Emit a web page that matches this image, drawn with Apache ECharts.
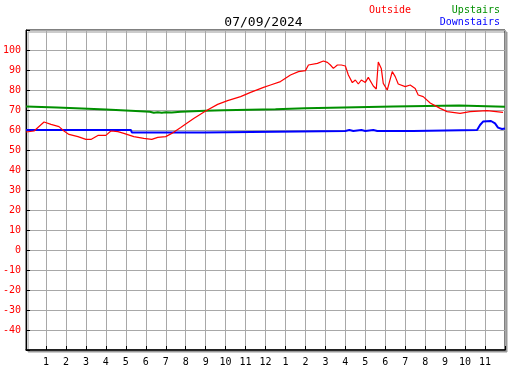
<!DOCTYPE html>
<html>
<head>
<meta charset="utf-8">
<script src="https://cdn.jsdelivr.net/npm/echarts@6/dist/echarts.min.js"></script>
<style>
  html, body { margin: 0; padding: 0; background: #fff; }
  #chart { width: 527px; height: 370px; }
</style>
</head>
<body>
<div id="chart"></div>
<script>
// hours since midnight -> temperature
const outsideTime = [0, 0.05, 0.4, 0.9, 1.25, 1.65, 1.9, 2.15, 2.6, 3.0, 3.25, 3.6, 4.0, 4.25, 4.6, 4.9, 5.4, 5.9, 6.3, 6.6, 7.0, 7.3, 7.75, 8.0, 8.4, 9.0, 9.6, 10.1, 10.75, 11.25, 11.9, 12.25, 12.75, 13.25, 13.65, 14.0, 14.15, 14.6, 14.9, 15.1, 15.25, 15.4, 15.6, 15.8, 16.0, 16.15, 16.35, 16.5, 16.65, 16.8, 17.0, 17.15, 17.25, 17.4, 17.55, 17.65, 17.8, 17.9, 18.1, 18.2, 18.35, 18.5, 18.65, 19.0, 19.25, 19.5, 19.65, 19.9, 20.25, 20.75, 21.1, 21.75, 22.25, 23.1, 23.9];
const outsideTemp = [59, 58.7, 59.5, 64, 62.8, 61.7, 59.5, 57.8, 56.7, 55.3, 55.3, 57.3, 57.3, 59.5, 59.2, 58.3, 56.7, 55.8, 55.3, 56.3, 56.7, 58.3, 61.3, 63, 65.8, 69.5, 72.8, 74.7, 76.7, 78.8, 81.3, 82.5, 84.2, 87.5, 89.2, 89.7, 92.5, 93.3, 94.5, 93.8, 92.5, 90.8, 92.5, 92.5, 92, 87.5, 83.7, 85, 83, 85, 83.8, 86.3, 85.8, 82, 80.5, 94, 90.8, 83.3, 80, 80.8, 89.2, 86.7, 83, 81.7, 82.5, 80.8, 77.5, 76.7, 73.5, 70.8, 69.2, 68.3, 69.2, 69.7, 68.8];

const upstairsTime = [0, 0.1, 1.55, 1.6, 2.8, 2.85, 4.0, 4.05, 5.25, 5.3, 6.2, 6.4, 6.6, 6.8, 7.0, 7.3, 7.75, 7.8, 9.0, 9.9, 9.95, 12.5, 12.6, 14.0, 14.05, 15.9, 15.95, 18.4, 18.45, 21.7, 21.75, 24];
const upstairsTemp = [71.8, 71.2, 71.2, 70.7, 70.7, 70.2, 70.2, 69.6, 69.6, 69.1, 69.1, 68.6, 68.9, 68.6, 68.9, 68.7, 69.1, 69.4, 69.6, 69.9, 70.3, 70.4, 70.8, 70.9, 71.3, 71.3, 71.8, 71.8, 72.3, 72.3, 71.6, 71.6];

const downstairsTime = [0, 5.25, 5.3, 8.9, 8.95, 16.0, 16.2, 16.4, 16.8, 17.0, 17.4, 17.6, 19.4, 19.45, 22.6, 22.75, 22.9, 23.3, 23.5, 23.65, 23.85, 24];
const downstairsTemp = [60, 60, 58.8, 58.8, 59.5, 59.5, 60, 59.5, 60, 59.5, 60, 59.5, 59.5, 60, 60, 62.5, 64.2, 64.5, 63.3, 61.2, 60.5, 60.8];

const pairs = (xs, ys) => xs.map((x, i) => [x, ys[i]]);
const mono = 'DejaVu Sans Mono';

const chart = echarts.init(document.getElementById('chart'));
chart.setOption({
  animation: false,
  title: {
    text: '07/09/2024',
    left: 'center',
    top: 11,
    textStyle: {fontFamily: mono, fontSize: 13, fontWeight: 'normal', color: '#000'}
  },
  graphic: [
    {type: 'text', left: 369, top: 5, style: {text: 'Outside', fill: '#ff0000', font: '10px ' + mono}},
    {type: 'text', right: 27, top: 5, style: {text: 'Upstairs', fill: '#009000', font: '10px ' + mono}},
    {type: 'text', right: 27, top: 17, style: {text: 'Downstairs', fill: '#0000ff', font: '10px ' + mono}}
  ],
  grid: {
    left: 25, top: 30, width: 480, height: 320,
    show: true,
    backgroundColor: '#fff',
    borderColor: '#000',
    borderWidth: 1,
    shadowColor: '#999',
    shadowOffsetX: 2,
    shadowOffsetY: 2,
    shadowBlur: 0
  },
  xAxis: {
    type: 'value',
    min: 0, max: 24, interval: 1,
    axisLine: {show: true, onZero: false, lineStyle: {color: '#000', width: 1.5}},
    axisTick: {show: true, inside: true, length: 4, lineStyle: {color: '#000'}},
    splitLine: {show: true, lineStyle: {color: '#a8a8a8', width: 1}},
    axisLabel: {
      margin: 7,
      fontFamily: mono, fontSize: 10, color: '#000',
      formatter: v => (v <= 0 || v >= 24) ? '' : String((v - 1) % 12 + 1)
    }
  },
  yAxis: {
    type: 'value',
    min: -50, max: 110, interval: 10,
    axisLine: {show: true, onZero: false, lineStyle: {color: '#000', width: 1}},
    axisTick: {show: true, inside: true, length: 4, lineStyle: {color: '#000'}},
    splitLine: {show: true, lineStyle: {color: '#a8a8a8', width: 1}},
    axisLabel: {
      margin: 5,
      fontFamily: mono, fontSize: 10, color: '#ff0000',
      formatter: v => (v <= -50 || v >= 110) ? '' : String(v)
    }
  },
  series: [
    {
      name: 'Upstairs', type: 'line', showSymbol: false,
      lineStyle: {color: '#009000', width: 2},
      data: pairs(upstairsTime, upstairsTemp)
    },
    {
      name: 'Downstairs', type: 'line', showSymbol: false,
      lineStyle: {color: '#0000ff', width: 2},
      data: pairs(downstairsTime, downstairsTemp)
    },
    {
      name: 'Outside', type: 'line', showSymbol: false,
      lineStyle: {color: '#ff0000', width: 1.2},
      data: pairs(outsideTime, outsideTemp)
    }
  ]
});
</script>
</body>
</html>
